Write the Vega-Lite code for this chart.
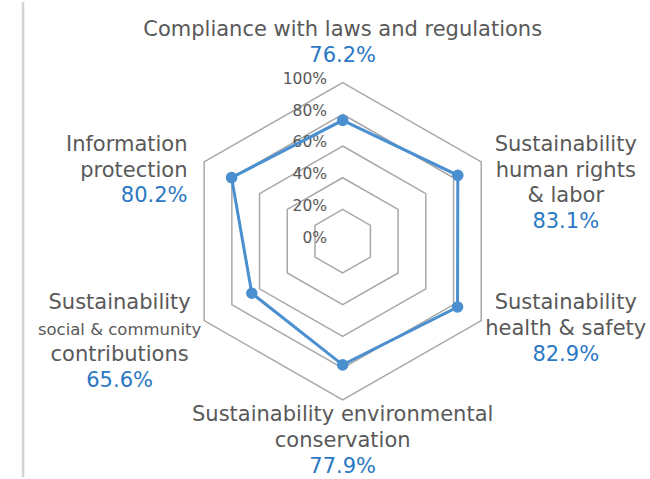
{
  "$schema": "https://vega.github.io/schema/vega-lite/v6.json",
  "width": 650,
  "height": 479,
  "autosize": {"type": "fit", "contains": "padding"},
  "padding": 0,
  "background": "white",
  "config": {"view": {"stroke": null}},
  "datasets": {
    "scores": [
      {"category": "Compliance with laws and regulations", "lines": ["Compliance with laws and regulations"], "value": 76.2},
      {"category": "Sustainability human rights & labor", "lines": ["Sustainability", "human rights", "& labor"], "value": 83.1},
      {"category": "Sustainability health & safety", "lines": ["Sustainability", "health & safety"], "value": 82.9},
      {"category": "Sustainability environmental conservation", "lines": ["Sustainability environmental", "conservation"], "value": 77.9},
      {"category": "Sustainability social & community contributions", "lines": ["Sustainability", "social & community", "contributions"], "value": 65.6},
      {"category": "Information protection", "lines": ["Information", "protection"], "value": 80.2}
    ],
    "ticks": [{"level": 0}, {"level": 20}, {"level": 40}, {"level": 60}, {"level": 80}, {"level": 100}]
  },
  "layer": [
    {
      "data": {"name": "scores"},
      "transform": [
        {"window": [{"op": "row_number", "as": "rn"}]},
        {"calculate": "[20, 40, 60, 80, 100]", "as": "levels"},
        {"flatten": ["levels"], "as": ["level"]},
        {"calculate": "(datum.rn - 1) * PI / 3", "as": "a"},
        {"calculate": "datum.level * sin(datum.a)", "as": "px"},
        {"calculate": "datum.level * cos(datum.a)", "as": "py"}
      ],
      "mark": {"type": "line", "interpolate": "linear-closed", "color": "#a8a8a8", "strokeWidth": 1.5},
      "encoding": {
        "x": {"field": "px", "type": "quantitative", "scale": {"domain": [-214.2, 192.1], "nice": false, "zero": false}, "axis": null},
        "y": {"field": "py", "type": "quantitative", "scale": {"domain": [-148.6, 150.75], "nice": false, "zero": false}, "axis": null},
        "detail": {"field": "level", "type": "nominal"},
        "order": {"field": "rn", "type": "quantitative"}
      }
    },
    {
      "data": {"name": "ticks"},
      "transform": [{"calculate": "datum.level + '%'", "as": "t"}],
      "mark": {"type": "text", "align": "right", "baseline": "alphabetic", "dy": 1.5, "font": "DejaVu Sans", "fontSize": 15.5, "color": "#595959"},
      "encoding": {
        "x": {"datum": -9.8, "type": "quantitative", "scale": {"domain": [-214.2, 192.1], "nice": false, "zero": false}, "axis": null},
        "y": {"field": "level", "type": "quantitative", "scale": {"domain": [-148.6, 150.75], "nice": false, "zero": false}, "axis": null},
        "text": {"field": "t"}
      }
    },
    {
      "data": {"name": "scores"},
      "transform": [
        {"window": [{"op": "row_number", "as": "rn"}]},
        {"calculate": "(datum.rn - 1) * PI / 3", "as": "a"},
        {"calculate": "datum.value * sin(datum.a)", "as": "px"},
        {"calculate": "datum.value * cos(datum.a)", "as": "py"}
      ],
      "layer": [
        {
          "mark": {"type": "line", "interpolate": "linear-closed", "color": "#4a8fd0", "strokeWidth": 3},
          "encoding": {
            "x": {"field": "px", "type": "quantitative", "scale": {"domain": [-214.2, 192.1], "nice": false, "zero": false}, "axis": null},
            "y": {"field": "py", "type": "quantitative", "scale": {"domain": [-148.6, 150.75], "nice": false, "zero": false}, "axis": null},
            "order": {"field": "rn", "type": "quantitative"}
          }
        },
        {
          "mark": {"type": "point", "filled": true, "opacity": 1, "size": 135, "color": "#4a8fd0"},
          "encoding": {
            "x": {"field": "px", "type": "quantitative", "scale": {"domain": [-214.2, 192.1], "nice": false, "zero": false}, "axis": null},
            "y": {"field": "py", "type": "quantitative", "scale": {"domain": [-148.6, 150.75], "nice": false, "zero": false}, "axis": null},
            "tooltip": [{"field": "category"}, {"field": "value"}]
          }
        }
      ]
    },
    {
      "data": {"name": "scores"},
      "transform": [
        {"window": [{"op": "row_number", "as": "rn"}]},
        {"calculate": "(datum.rn - 1) * PI / 3", "as": "a"},
        {"calculate": "cos(datum.a)", "as": "ca"},
        {"calculate": "split(join(datum.lines, '|') + '|' + format(datum.value, '.1f') + '%', '|')", "as": "all"},
        {"calculate": "length(datum.all)", "as": "n"},
        {"flatten": ["all"], "as": ["txt"]},
        {"window": [{"op": "row_number", "as": "li"}], "groupby": ["rn"]},
        {"calculate": "abs(datum.ca) > 0.9 ? (datum.ca > 0 ? 113.2 + (datum.n - datum.li) * 16.25 : -113.6 - (datum.li - 1) * 16.25) : 100 * datum.ca + 7 - (datum.li - 1) * 16.25", "as": "ly"},
        {"calculate": "datum.rn == 6 ? 112 * sin(datum.a) : 161 * sin(datum.a)", "as": "lx"}
      ],
      "encoding": {
        "x": {"field": "lx", "type": "quantitative", "scale": {"domain": [-214.2, 192.1], "nice": false, "zero": false}, "axis": null},
        "y": {"field": "ly", "type": "quantitative", "scale": {"domain": [-148.6, 150.75], "nice": false, "zero": false}, "axis": null},
        "text": {"field": "txt"},
        "color": {"condition": {"test": "datum.li == datum.n", "value": "#2b78c4"}, "value": "#595959"},
        "size": {"condition": {"test": "datum.txt == 'social & community'", "value": 16.5}, "value": 21}
      },
      "layer": [
        {
          "transform": [{"filter": "datum.rn != 6"}],
          "mark": {"type": "text", "align": "center", "baseline": "alphabetic", "font": "DejaVu Sans"}
        },
        {
          "transform": [{"filter": "datum.rn == 6"}],
          "mark": {"type": "text", "align": "right", "baseline": "alphabetic", "font": "DejaVu Sans"}
        }
      ]
    },
    {
      "data": {"values": [{}]},
      "mark": {"type": "rule", "color": "#d3d3d3", "strokeWidth": 2.5},
      "encoding": {
        "x": {"datum": -199.8, "type": "quantitative", "scale": {"domain": [-214.2, 192.1], "nice": false, "zero": false}, "axis": null}
      }
    }
  ]
}
